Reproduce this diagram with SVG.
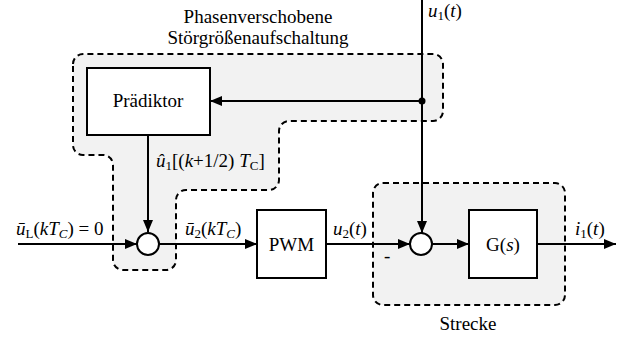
<svg xmlns="http://www.w3.org/2000/svg" width="621" height="338" viewBox="0 0 621 338">
<style>
.t{font-family:'Liberation Serif',serif;font-size:19px;fill:#000}
.i{font-style:italic}
.s{font-size:13px}
.ln{stroke:#000;stroke-width:2;fill:none}
.bx{stroke:#000;stroke-width:2;fill:#fff}
.rg{stroke:#000;stroke-width:2;stroke-dasharray:6,4;fill:#f2f2f2}
</style>
<defs>
<marker id="ah" viewBox="0 0 12 10" refX="12" refY="5" markerWidth="12" markerHeight="10" markerUnits="userSpaceOnUse" orient="auto">
<path d="M0,0 L12,5 L0,10 Z" fill="#000"/>
</marker>
</defs>
<g id="region-stoer">
<path class="rg" d="M73,64 A10,10 0 0 1 83,54 L433,54 A10,10 0 0 1 443,64 L443,111 A10,10 0 0 1 433,121 L289,121 A10,10 0 0 0 279,131 L279,180 A10,10 0 0 1 269,190 L186,190 A10,10 0 0 0 176,200 L176,260 A10,10 0 0 1 166,270 L123,270 A10,10 0 0 1 113,260 L113,165 A10,10 0 0 0 103,155 L83,155 A10,10 0 0 1 73,145 Z"/>
<text class="t" x="258" y="23" text-anchor="middle">Phasenverschobene</text>
<text class="t" x="258" y="44" text-anchor="middle">Störgrößenaufschaltung</text>
</g>
<g id="region-strecke">
<rect class="rg" x="373" y="183" width="192" height="122" rx="10"/>
<text class="t" x="468" y="330" text-anchor="middle">Strecke</text>
</g>
<g id="connectors">
<line class="ln" x1="422" y1="0" x2="422" y2="233" marker-end="url(#ah)"/>
<line class="ln" x1="422" y1="101" x2="210" y2="101" marker-end="url(#ah)"/>
<circle cx="422" cy="101" r="3.5" fill="#000"/>
<line class="ln" x1="148" y1="135" x2="148" y2="232" marker-end="url(#ah)"/>
<line class="ln" x1="18" y1="244" x2="137" y2="244" marker-end="url(#ah)"/>
<line class="ln" x1="159" y1="244" x2="257" y2="244" marker-end="url(#ah)"/>
<line class="ln" x1="326" y1="244" x2="410" y2="244" marker-end="url(#ah)"/>
<line class="ln" x1="432" y1="244" x2="469" y2="244" marker-end="url(#ah)"/>
<line class="ln" x1="537" y1="244" x2="616" y2="244" marker-end="url(#ah)"/>
<text class="t" x="428" y="17"><tspan class="i">u</tspan><tspan class="s" dy="3">1</tspan><tspan dy="-3">(</tspan><tspan class="i">t</tspan>)</text>
<text class="t" x="156" y="167"><tspan class="i">û</tspan><tspan class="s" dy="3">1</tspan><tspan dy="-3">[(</tspan><tspan class="i">k</tspan>+1/2) <tspan class="i">T</tspan><tspan class="s" dy="3">C</tspan><tspan dy="-3">]</tspan></text>
<text class="t" x="16" y="235"><tspan class="i">ū</tspan><tspan class="s" dy="3">L</tspan><tspan dy="-3">(</tspan><tspan class="i">kT</tspan><tspan class="s i" dy="3">C</tspan><tspan dy="-3">) = 0</tspan></text>
<text class="t" x="185" y="235"><tspan class="i">ū</tspan><tspan class="s" dy="3">2</tspan><tspan dy="-3">(</tspan><tspan class="i">kT</tspan><tspan class="s i" dy="3">C</tspan><tspan dy="-3">)</tspan></text>
<text class="t" x="333" y="235"><tspan class="i">u</tspan><tspan class="s" dy="3">2</tspan><tspan dy="-3">(</tspan><tspan class="i">t</tspan>)</text>
<text class="t" x="384" y="262">-</text>
<text class="t" x="575" y="235"><tspan class="i">i</tspan><tspan class="s" dy="3">1</tspan><tspan dy="-3">(</tspan><tspan class="i">t</tspan>)</text>
</g>
<g id="praediktor">
<rect class="bx" x="87" y="68" width="123" height="67"/>
<text class="t" x="148" y="107" text-anchor="middle">Prädiktor</text>
</g>
<g id="sum1">
<circle class="bx" cx="148" cy="244" r="11"/>
</g>
<g id="pwm">
<rect class="bx" x="257" y="210" width="69" height="68"/>
<text class="t" x="291.5" y="251" text-anchor="middle">PWM</text>
</g>
<g id="sum2">
<circle class="bx" cx="421" cy="244" r="11"/>
</g>
<g id="gs">
<rect class="bx" x="469" y="210" width="68" height="68"/>
<text class="t" x="503" y="251" text-anchor="middle">G(<tspan class="i">s</tspan>)</text>
</g>
</svg>
